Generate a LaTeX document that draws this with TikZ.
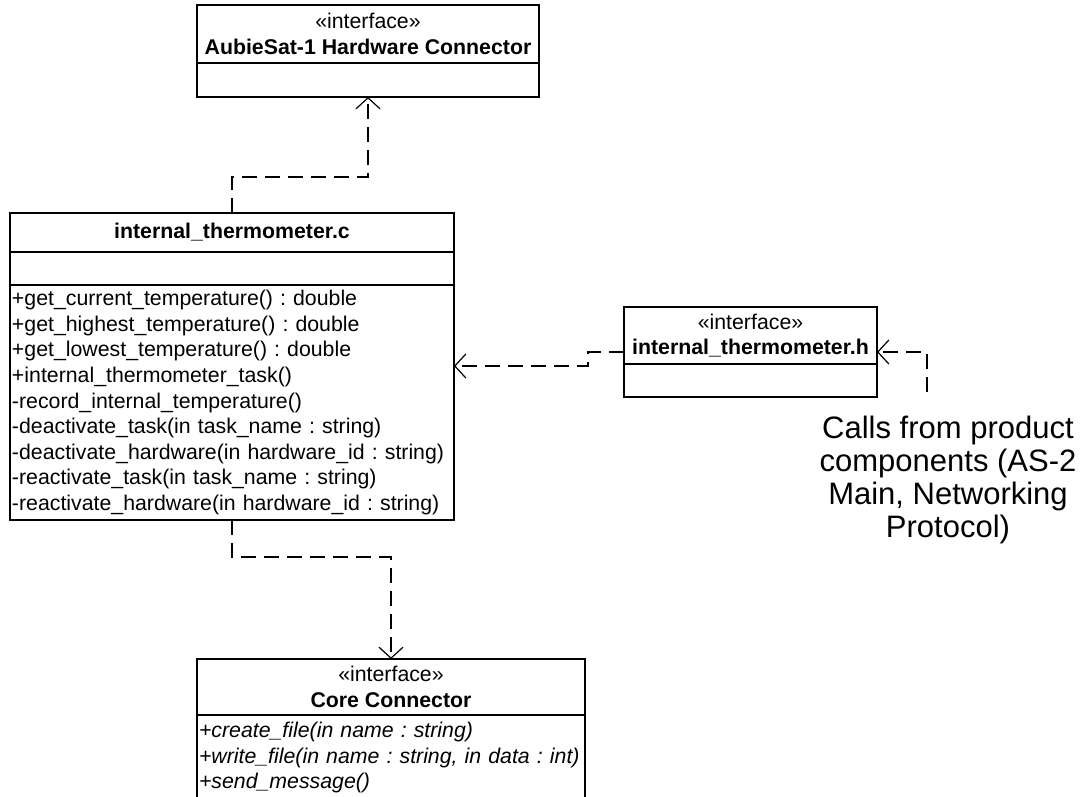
\documentclass[tikz,border=0pt]{standalone}
\usepackage{fontspec}
\setmainfont{Liberation Sans}
\usetikzlibrary{arrows.meta}
\frenchspacing

\begin{document}
\begin{tikzpicture}[
  x=1pt,
  y=-1pt,
  font=\fontsize{21.3}{25.6}\selectfont,
  box/.style={draw, line width=1.2pt, inner sep=0pt, outer sep=0pt},
  head/.style={box, align=center},
  attr/.style={box},
  ops/.style={box, align=left, anchor=north west, inner xsep=2pt},
  note/.style={align=center, anchor=north, font=\fontsize{31}{33}\selectfont},
  dep/.style={-{Straight Barb[length=11pt, width=24pt]}, line width=1.2pt,
    dash pattern=on 15pt off 8pt}
]
  \useasboundingbox (0,0) rectangle (1084,797);

  \node[head, minimum width=342pt, minimum height=58pt] (hwhead) at (368,34)
    {«interface»\\\textbf{AubieSat-1 Hardware Connector}};
  \node[attr, minimum width=342pt, minimum height=34pt, anchor=north] (hwattr)
    at (hwhead.south) {};

  \node[head, minimum width=444pt, minimum height=39pt] (thtitle) at (232,232.5)
    {\textbf{internal\_thermometer.c}};
  \node[attr, minimum width=444pt, minimum height=33pt, anchor=north] (thattr)
    at (thtitle.south) {};
  \node[ops, text width=440pt, minimum height=235pt] (thops) at (thattr.south west)
    {+get\_current\_temperature() : double\\
     +get\_highest\_temperature() : double\\
     +get\_lowest\_temperature() : double\\
     +internal\_thermometer\_task()\\
     -record\_internal\_temperature()\\
     -deactivate\_task(in task\_name : string)\\
     -deactivate\_hardware(in hardware\_id : string)\\
     -reactivate\_task(in task\_name : string)\\
     -reactivate\_hardware(in hardware\_id : string)};

  \node[head, minimum width=253pt, minimum height=57pt] (hhead) at (750.5,335.5)
    {«interface»\\\textbf{internal\_thermometer.h}};
  \node[attr, minimum width=253pt, minimum height=33pt, anchor=north] (hattr)
    at (hhead.south) {};

  \node[head, minimum width=388pt, minimum height=56pt] (cchead) at (391,687)
    {«interface»\\\textbf{Core Connector}};
  \node[ops, text width=384pt, minimum height=85pt, font=\fontsize{21.3}{25.6}\itshape]
    (ccops) at (cchead.south west)
    {+create\_file(in name : string)\\
     +write\_file(in name : string, in data : int)\\
     +send\_message()};

  \node[note] (calls) at (948,412)
    {Calls from product\\components (AS-2\\Main, Networking\\Protocol)};
  \coordinate (callend) at (927,392);

  \draw[dep] (thtitle.north) -- ++(0,-36) -| (hwattr.south);
  \draw[dep] (thops.south) -- ++(0,37) -| (cchead.north);
  \draw[dep] ([yshift=-16.5pt]hhead.west) -- ++(-36,0) |- ([yshift=36.5pt]thops.east);
  \draw[dep] (callend) |- ([yshift=-16.5pt]hhead.east);
\end{tikzpicture}
\end{document}
